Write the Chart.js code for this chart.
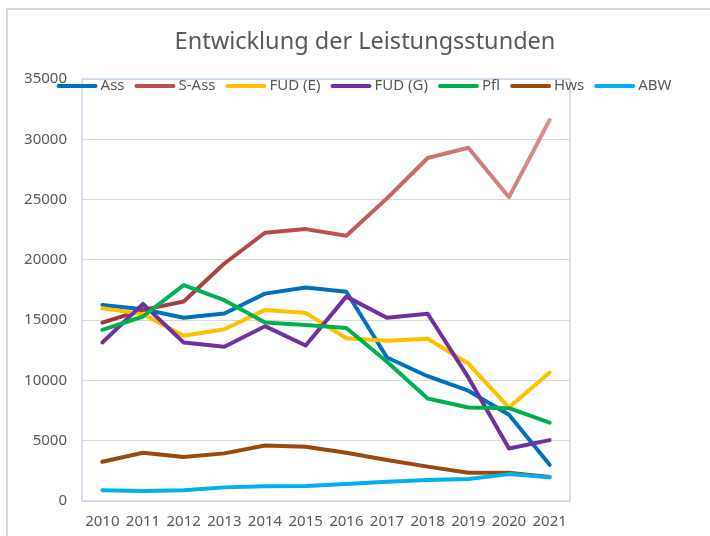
<!DOCTYPE html>
<html>
<head>
<meta charset="utf-8">
<script src="https://cdn.jsdelivr.net/npm/chart.js@4.4.0/dist/chart.umd.min.js"></script>
<style>
  html, body { margin: 0; padding: 0; background: #fff; }
  canvas { display: block; }
</style>
</head>
<body>
<canvas id="chart" width="710" height="536"></canvas>
<script>
// values
const years = ['2010', '2011', '2012', '2013', '2014', '2015', '2016', '2017', '2018', '2019', '2020', '2021'];
const ass  = [16250, 15900, 15200, 15550, 17200, 17700, 17350, 11900, 10350, 9150, 7150, 3000];
const sAss = [14800, 15850, 16550, 19700, 22250, 22550, 22000, 25100, 28450, 29300, 25200, 31600];
const fudE = [15980, 15500, 13700, 14250, 15850, 15600, 13500, 13300, 13450, 11400, 7750, 10650];
const fudG = [13150, 16350, 13150, 12800, 14500, 12900, 16950, 15200, 15530, 10250, 4350, 5050];
const pfl  = [14200, 15300, 17900, 16650, 14800, 14600, 14350, 11550, 8500, 7750, 7700, 6500];
const hws  = [3250, 4000, 3650, 3950, 4600, 4500, 4000, 3400, 2850, 2350, 2350, 2000];
const abw  = [900, 830, 900, 1130, 1230, 1240, 1400, 1600, 1740, 1830, 2230, 1960];

const seriesNames = ['Ass', 'S-Ass', 'FUD (E)', 'FUD (G)', 'Pfl', 'Hws', 'ABW'];
const seriesValues = [ass, sAss, fudE, fudG, pfl, hws, abw];
const seriesColors = ['#0070C0', '#C0504D', '#FFC000', '#7030A0', '#00B050', '#9C4A0C', '#00B0F0'];
const chartTitle = 'Entwicklung der Leistungsstunden';

const FONT = '"Noto Sans", "Open Sans", sans-serif';
const TEXT = '#595959';

// S-Ass fades from dark red to pink like the Excel gradient line
function sAssGradient(ctx) {
    const area = ctx.chart.chartArea;
    if (!area) return '#C0504D';
    const g = ctx.chart.ctx.createLinearGradient(area.left, 0, area.right, 0);
    g.addColorStop(0, '#943634');
    g.addColorStop(0.5, '#C0504D');
    g.addColorStop(1, '#DA9694');
    return g;
}

const datasets = seriesNames.map((name, i) => ({
    label: name,
    data: seriesValues[i],
    legendColor: seriesColors[i],
    borderColor: name === 'S-Ass' ? sAssGradient : seriesColors[i],
    backgroundColor: seriesColors[i],
    borderWidth: 4,
    borderCapStyle: 'round',
    borderJoinStyle: 'round',
    pointRadius: 0,
    tension: 0,
    fill: false,
    order: seriesNames.length - i   // later series on top, like Excel
}));

const framePlugin = {
    id: 'frame',
    beforeDraw(chart) {
        const c = chart.ctx;
        c.save();
        c.fillStyle = '#fff';
        c.fillRect(0, 0, chart.width, chart.height);
        c.strokeStyle = '#D9D9D9';
        c.lineWidth = 2;
        c.beginPath();
        c.moveTo(7, chart.height + 5);
        c.lineTo(7, 9);
        c.lineTo(chart.width + 5, 9);
        c.stroke();

        c.fillStyle = TEXT;
        c.font = '23.5px ' + FONT;
        c.textAlign = 'center';
        c.textBaseline = 'middle';
        c.fillText(chartTitle, 365, 42);
        c.restore();
    },
    beforeDatasetsDraw(chart) {
        const a = chart.chartArea;
        const c = chart.ctx;
        c.save();
        c.strokeStyle = '#C9D8EC';
        c.lineWidth = 1.5;
        c.strokeRect(a.left, a.top, a.right - a.left, a.bottom - a.top);
        c.restore();
    },
    afterDatasetsDraw(chart) {
        const c = chart.ctx;
        const items = chart.data.datasets;
        c.save();
        c.font = '15px ' + FONT;
        const swatch = 41, gapText = 3, gapItem = 10;
        const widths = items.map(d => swatch + gapText + c.measureText(d.label).width);
        const total = widths.reduce((s, w) => s + w, 0) + gapItem * (items.length - 1);
        let x = 364 - total / 2;
        const y = 86;
        items.forEach((d, i) => {
            c.strokeStyle = d.legendColor;
            c.lineWidth = 4;
            c.lineCap = 'round';
            c.beginPath();
            c.moveTo(x + 2, y);
            c.lineTo(x + swatch - 2, y);
            c.stroke();
            c.fillStyle = TEXT;
            c.textAlign = 'left';
            c.textBaseline = 'middle';
            c.fillText(d.label, x + swatch + gapText, y);
            x += widths[i] + gapItem;
        });
        c.restore();
    }
};

new Chart(document.getElementById('chart'), {
    type: 'line',
    data: { labels: years, datasets: datasets },
    options: {
        responsive: false,
        animation: false,
        layout: { padding: { left: 0, top: 79, right: 140, bottom: 0 } },
        plugins: {
            legend: { display: false },
            title: { display: false },
            tooltip: { enabled: false }
        },
        scales: {
            x: {
                offset: true,
                grid: { display: false, drawTicks: false },
                border: { display: false },
                ticks: {
                    color: TEXT,
                    font: { family: FONT, size: 15 },
                    padding: 12,
                    maxRotation: 0,
                    autoSkip: false
                },
                afterFit(scale) { scale.height = 35; }
            },
            y: {
                min: 0,
                max: 35000,
                grid: { color: '#D9D9D9', lineWidth: 1, drawTicks: false },
                border: { display: false },
                ticks: {
                    stepSize: 5000,
                    color: TEXT,
                    font: { family: FONT, size: 15 },
                    padding: 15,
                    callback: v => String(v)
                },
                afterFit(scale) { scale.width = 82; }
            }
        }
    },
    plugins: [framePlugin]
});
</script>
</body>
</html>
